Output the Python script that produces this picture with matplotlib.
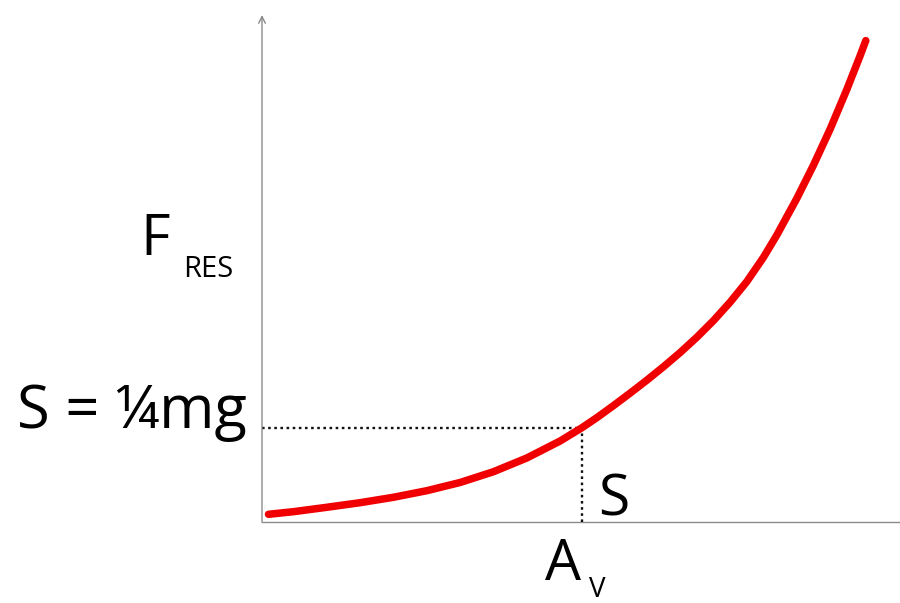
import matplotlib
matplotlib.use("Agg")
import matplotlib.pyplot as plt

# Curve values (arbitrary units)
curve_x = [0.108, 0.522, 1.078, 1.633, 2.188, 2.745, 3.30, 3.855, 4.412, 4.967, 5.33,
           5.583, 5.855, 6.133, 6.412, 6.688, 6.967, 7.245, 7.522, 7.80, 8.078,
           8.355, 8.578, 8.912, 9.188, 9.467, 9.745, 9.967, 10.06]
curve_y = [0.154, 0.206, 0.294, 0.386, 0.494, 0.626, 0.79, 1.005, 1.28, 1.62, 1.885,
           2.09, 2.327, 2.577, 2.836, 3.104, 3.389, 3.695, 4.027, 4.397, 4.808,
           5.293, 5.739, 6.474, 7.136, 7.861, 8.653, 9.33, 9.628]
marker_x = 5.33   # A_V
marker_y = 1.89   # S = 1/4 mg

plt.rcParams['font.family'] = ['Open Sans', 'DejaVu Sans']

fig = plt.figure(figsize=(9, 6.03), dpi=100)
ax = fig.add_axes([262/900, (603-522)/603, 638/900, 507/603])
ax.set_xlim(0, 10.63)
ax.set_ylim(0, 10.14)
for s in ax.spines.values():
    s.set_visible(False)
ax.set_xticks([])
ax.set_yticks([])

axis_col = '#8a8a8a'
ax.plot([0, 10.63], [0, 0], color=axis_col, lw=1.0, clip_on=False)
ax.annotate('', xy=(0, 10.14), xytext=(0, 0),
            arrowprops=dict(arrowstyle='->', color=axis_col, lw=1.0,
                            mutation_scale=12, shrinkA=0, shrinkB=0))

ax.plot([0, marker_x], [marker_y, marker_y], color='#111111', lw=1.7, ls=(0, (1.1, 1.5)))
ax.plot([marker_x, marker_x], [0, marker_y], color='#111111', lw=1.7, ls=(0, (1.1, 1.5)))

ax.plot(curve_x, curve_y, color='#f00000', lw=5.4, solid_capstyle='round',
        solid_joinstyle='round', zorder=3)

fig.text(140/900, (603-255)/603, 'F', fontsize=41, ha='left', va='baseline')
fig.text(183/900, (603-277)/603, 'RES', fontsize=21, ha='left', va='baseline')
fig.text(17/900, (603-428)/603, 'S = ¼mg', fontsize=43, ha='left', va='baseline')
fig.text(598/900, (603-515)/603, 'S', fontsize=41, ha='left', va='baseline')
fig.text(545/900, (603-580)/603, 'A', fontsize=41, ha='left', va='baseline')
fig.text(589/900, (603-597)/603, 'V', fontsize=20, ha='left', va='baseline')

fig.savefig('out.png', dpi=100)
